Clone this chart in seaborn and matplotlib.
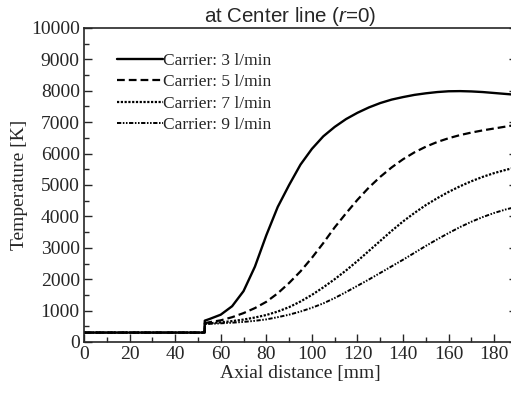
import numpy as np
import pandas as pd
import matplotlib
matplotlib.use("Agg")
import matplotlib.pyplot as plt
import seaborn as sns

# Dados (temperatura na linha central, r=0)
distancia = [0, 52.9, 53, 55, 60, 65, 70, 75, 80, 85, 90, 95, 100, 105, 110, 115, 120,
             125, 130, 135, 140, 145, 150, 155, 160, 165, 170, 175, 180, 185, 190]
temp_3 = [300, 300, 680, 730, 870, 1140, 1620, 2400, 3400, 4300, 5000, 5650, 6150, 6550,
          6850, 7100, 7300, 7470, 7610, 7720, 7800, 7870, 7920, 7960, 7985, 7990, 7980,
          7960, 7930, 7900, 7870]
temp_5 = [300, 300, 600, 630, 690, 790, 920, 1080, 1280, 1550, 1880, 2250, 2680, 3150,
          3650, 4100, 4530, 4920, 5260, 5560, 5820, 6040, 6220, 6370, 6490, 6590, 6670,
          6740, 6800, 6860, 6920]
temp_7 = [300, 300, 580, 595, 625, 665, 715, 780, 860, 970, 1110, 1290, 1500, 1740,
          2000, 2280, 2580, 2900, 3220, 3540, 3840, 4110, 4360, 4580, 4780, 4960, 5120,
          5260, 5380, 5480, 5570]
temp_9 = [300, 300, 570, 578, 595, 615, 640, 675, 720, 790, 870, 970, 1090, 1230,
          1400, 1590, 1790, 1990, 2200, 2410, 2620, 2840, 3060, 3270, 3470, 3660, 3830,
          3980, 4110, 4220, 4310]

rotulos = ["Carrier: 3 l/min", "Carrier: 5 l/min", "Carrier: 7 l/min", "Carrier: 9 l/min"]
estilos = ["-", (0, (3.5, 1.8)), (0, (1, 0.7)), (0, (2.2, 0.8, 0.8, 0.8, 0.8, 0.8))]
larguras = [1.7, 1.6, 1.6, 1.4]

sns.set_style("ticks")
plt.rcParams["font.family"] = ["Liberation Serif", "DejaVu Serif"]
plt.rcParams["mathtext.fontset"] = "custom"
plt.rcParams["mathtext.it"] = "Liberation Sans:italic"
plt.rcParams["mathtext.rm"] = "Liberation Sans"

fig = plt.figure(figsize=(5.11, 3.93), dpi=100)
ax = fig.add_axes([84 / 511, 1 - 342 / 393, 433 / 511, 314 / 393])

for serie, rotulo, estilo, lw in zip([temp_3, temp_5, temp_7, temp_9], rotulos, estilos, larguras):
    df = pd.DataFrame({"x": distancia, "T": serie})
    sns.lineplot(data=df, x="x", y="T", ax=ax, color="black", linestyle=estilo,
                 linewidth=lw, label=rotulo, sort=False)

ax.set_xlim(0, 190)
ax.set_ylim(0, 10000)
ax.set_xticks(np.arange(0, 181, 20))
ax.set_xticks(np.arange(0, 191, 10), minor=True)
ax.set_yticks(np.arange(0, 10001, 1000))
ax.set_yticks(np.arange(0, 10001, 500), minor=True)
ax.tick_params(axis="both", which="major", direction="in", length=6, width=1,
               labelsize=14, pad=3)
ax.tick_params(axis="both", which="minor", direction="in", length=3.5, width=1)
ax.tick_params(axis="y", which="major", right=True)
for s in ax.spines.values():
    s.set_linewidth(1.2)

ax.set_xlabel("Axial distance [mm]", fontsize=14, labelpad=1)
ax.set_ylabel("Temperature [K]", fontsize=14, labelpad=2)
ax.set_title("at Center line ($r$=0)", fontsize=14.8, family="Liberation Sans", pad=3, x=0.475)

ax.legend(loc="upper left", bbox_to_anchor=(0.06, 0.943), frameon=False, fontsize=12.5,
          handlelength=2.65, handletextpad=0.0, labelspacing=0.3, borderaxespad=0)

fig.savefig("out.png", dpi=100)
plt.close(fig)
